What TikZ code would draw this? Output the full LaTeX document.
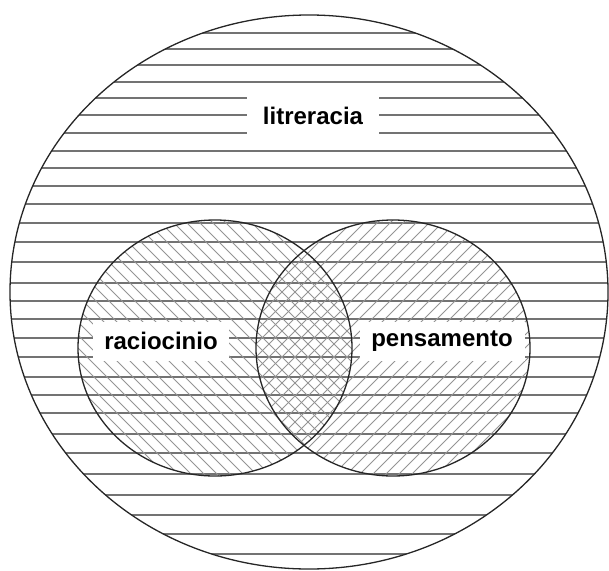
\documentclass[tikz,border=0pt]{standalone}
\usepackage{fontspec}
\setmainfont{Liberation Sans}

\begin{document}
\begin{tikzpicture}[x=1pt,y=-1pt]
    \tikzset{
        hline/.style={draw=black!55, line width=1.1pt},
        hatch/.style={draw=black!42, line width=0.8pt},
        rim/.style={draw=black!85, line width=1.3pt},
        lbl/.style={fill=white, inner sep=0pt, font=\fontsize{24}{28}\selectfont\bfseries}
    }
    \useasboundingbox (0,0) rectangle (609,570);

    % horizontal lines of the big set
    \begin{scope}
        \clip (309,292) ellipse [x radius=299, y radius=277];
        \foreach \y in {33,49,65,82,98,115,133,151,168,186,204,223,242,262,283,301,319,338,357,377,395,413,434,453,474,495,515,534,554}
            \draw[hline] (0,\y) -- (609,\y);
    \end{scope}

    % hatching of the two small sets
    \begin{scope}
        \clip (215,348) ellipse [x radius=137, y radius=128];
        \foreach \a in {-200,-187,...,340}
            \draw[hatch] (\a,200) -- ++(300,300);
    \end{scope}
    \begin{scope}
        \clip (393,348) ellipse [x radius=137, y radius=128];
        \foreach \a in {-30,-17,...,510}
            \draw[hatch] (\a,500) -- ++(300,-300);
    \end{scope}

    \node[lbl, minimum width=132pt, minimum height=46pt] (lit) at (313,116) {litreracia};
    \node[lbl, minimum width=136pt, minimum height=39pt] (rac) at (161,341) {raciocinio};
    \node[lbl, minimum width=165pt, minimum height=39pt] (pen) at (442,341) {pensamento};

    \draw[rim] (309,292) ellipse [x radius=299, y radius=277];
    \draw[rim] (215,348) ellipse [x radius=137, y radius=128];
    \draw[rim] (393,348) ellipse [x radius=137, y radius=128];
\end{tikzpicture}
\end{document}
